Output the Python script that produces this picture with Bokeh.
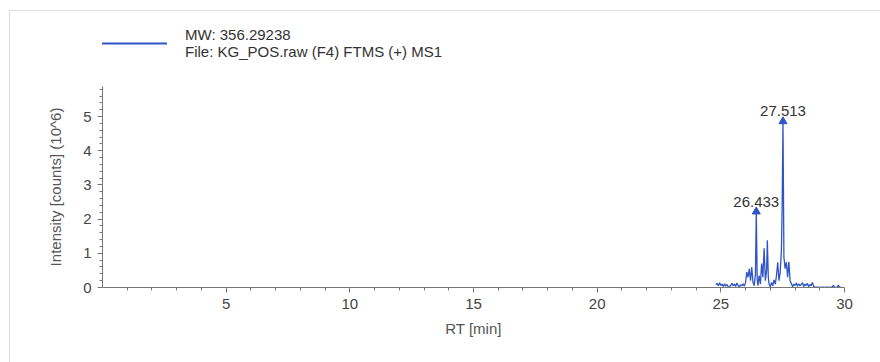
from bokeh.plotting import figure
from bokeh.layouts import column
from bokeh.models import (ColumnDataSource, FixedTicker, Legend, LegendItem,
                          LabelSet)
from bokeh.core.properties import value
from bokeh.embed import file_html
from bokeh.resources import INLINE

# ---- data ----
rt = [24.80, 24.85, 24.90, 24.95, 25.00, 25.05, 25.10, 25.15, 25.20, 25.25,
      25.30, 25.35, 25.40, 25.45, 25.50, 25.55, 25.60, 25.65, 25.70, 25.75,
      25.80, 25.85, 25.90, 25.95, 26.00, 26.05, 26.10, 26.15, 26.20, 26.25,
      26.30, 26.35, 26.40, 26.433, 26.47, 26.50, 26.55, 26.60, 26.65, 26.70,
      26.75, 26.80, 26.85, 26.88, 26.92, 26.95, 27.00, 27.05, 27.10, 27.15,
      27.20, 27.25, 27.30, 27.35, 27.40, 27.45, 27.48, 27.513, 27.55, 27.60,
      27.65, 27.70, 27.75, 27.80, 27.85, 27.90, 27.95, 28.00, 28.05, 28.10,
      28.15, 28.20, 28.25, 28.30, 28.35, 28.40, 28.45, 28.50, 28.55, 28.60,
      28.65, 28.70, 28.75, 28.80, 28.90, 29.00, 29.10, 29.20, 29.30, 29.40,
      29.50, 29.55, 29.60, 29.70, 29.75, 29.80, 29.90]
intensity = [0.08, 0.12, 0.05, 0.14, 0.06, 0.10, 0.03, 0.11, 0.04, 0.09,
             0.02, 0.00, 0.07, 0.12, 0.05, 0.10, 0.03, 0.13, 0.06, 0.02,
             0.08, 0.05, 0.11, 0.04, 0.15, 0.45, 0.30, 0.55, 0.20, 0.60,
             0.15, 0.05, 0.40, 2.22, 0.25, 0.05, 0.35, 0.10, 0.70, 0.30,
             1.15, 0.20, 0.50, 1.38, 0.30, 0.10, 0.02, 0.15, 0.05, 0.22,
             0.10, 0.35, 0.74, 0.20, 0.45, 1.10, 2.40, 4.86, 0.90, 0.55,
             0.74, 0.30, 0.75, 0.20, 0.12, 0.02, 0.10, 0.06, 0.13, 0.04,
             0.11, 0.05, 0.09, 0.14, 0.03, 0.10, 0.06, 0.12, 0.02, 0.09,
             0.05, 0.15, 0.04, 0.01, 0.01, 0.00, 0.01, 0.00, 0.01, 0.00,
             0.02, 0.06, 0.01, 0.00, 0.07, 0.01, 0.00]

peak_rt = [26.433, 27.513]
peak_int = [2.22, 4.86]
peak_labels = ["26.433", "27.513"]

x_ticks = [5, 10, 15, 20, 25, 30]
y_ticks = [0, 1, 2, 3, 4, 5]

legend_text = "MW: 356.29238\nFile: KG_POS.raw (F4) FTMS (+) MS1"

BLUE = "#2f55c4"
FONT = "Liberation Sans"

# ---- legend strip (separate figure above the chart) ----
lf = figure(width=871, height=75, output_backend="svg", toolbar_location=None,
            x_range=(0, 1), y_range=(0, 1),
            x_axis_location=None, y_axis_location=None)
lf.min_border_left = 0
lf.min_border_right = 0
lf.min_border_top = 0
lf.min_border_bottom = 0
lf.grid.visible = False
lf.outline_line_color = None
leg_src = ColumnDataSource(dict(x=rt, y=intensity))
leg_line = lf.line("x", "y", source=leg_src, line_color=BLUE, line_width=2)
legend = Legend(items=[LegendItem(label=legend_text, renderers=[leg_line])],
                location=(-5, 25), glyph_width=70, label_standoff=18,
                padding=0, margin=0, border_line_color=None,
                background_fill_alpha=0, label_text_font=FONT,
                label_text_font_size="15px", label_text_color="#333333",
                label_height=36, glyph_height=36)
lf.add_layout(legend, "center")

# ---- main chart ----
p = figure(width=871, height=277, output_backend="svg", toolbar_location=None,
           x_range=(0, 30), y_range=(0, 5.88))
p.min_border_left = 92
p.min_border_right = 37
p.min_border_top = 0
p.min_border_bottom = 76
p.outline_line_color = None
p.xgrid.visible = False
p.ygrid.visible = False

src = ColumnDataSource(dict(x=rt, y=intensity))
p.line("x", "y", source=src, line_color=BLUE, line_width=1.3)

psrc = ColumnDataSource(dict(x=peak_rt, y=peak_int, t=peak_labels))
p.scatter("x", "y", source=psrc, marker="triangle", size=8,
          fill_color=BLUE, line_color=BLUE)
labels = LabelSet(x="x", y="y", text="t", source=psrc, text_align="center",
                  text_baseline="bottom", y_offset=5, text_font=value(FONT),
                  text_font_size="15px", text_color="#333333")
p.add_layout(labels)

for ax in (p.xaxis[0], p.yaxis[0]):
    ax.axis_line_color = "#777777"
    ax.major_tick_line_color = "#777777"
    ax.minor_tick_line_color = "#777777"
    ax.major_tick_in = 0
    ax.minor_tick_in = 0
    ax.major_tick_out = 5
    ax.minor_tick_out = 3
    ax.major_label_text_font = FONT
    ax.major_label_text_font_size = "15px"
    ax.major_label_text_color = "#444444"
    ax.axis_label_text_font = FONT
    ax.axis_label_text_font_size = "15px"
    ax.axis_label_text_font_style = "normal"
    ax.axis_label_text_color = "#555555"

p.xaxis.ticker = FixedTicker(ticks=x_ticks, minor_ticks=list(range(1, 30)))
p.yaxis.ticker = FixedTicker(ticks=y_ticks,
                             minor_ticks=[i / 5 for i in range(0, 30)])
p.xaxis.axis_label = "RT [min]"
p.yaxis.axis_label = "Intensity [counts] (10^6)"
p.xaxis.axis_label_standoff = 8
p.yaxis.axis_label_standoff = 16
p.xaxis.major_label_standoff = 6
p.yaxis.major_label_standoff = 6

layout = column(lf, p, spacing=0)
layout.margin = (10, 0, 0, 9)
layout.styles = {"border-top": "1px solid #dddddd",
                 "border-left": "1px solid #dddddd"}

open("out.html", "w").write(file_html(layout, INLINE))
